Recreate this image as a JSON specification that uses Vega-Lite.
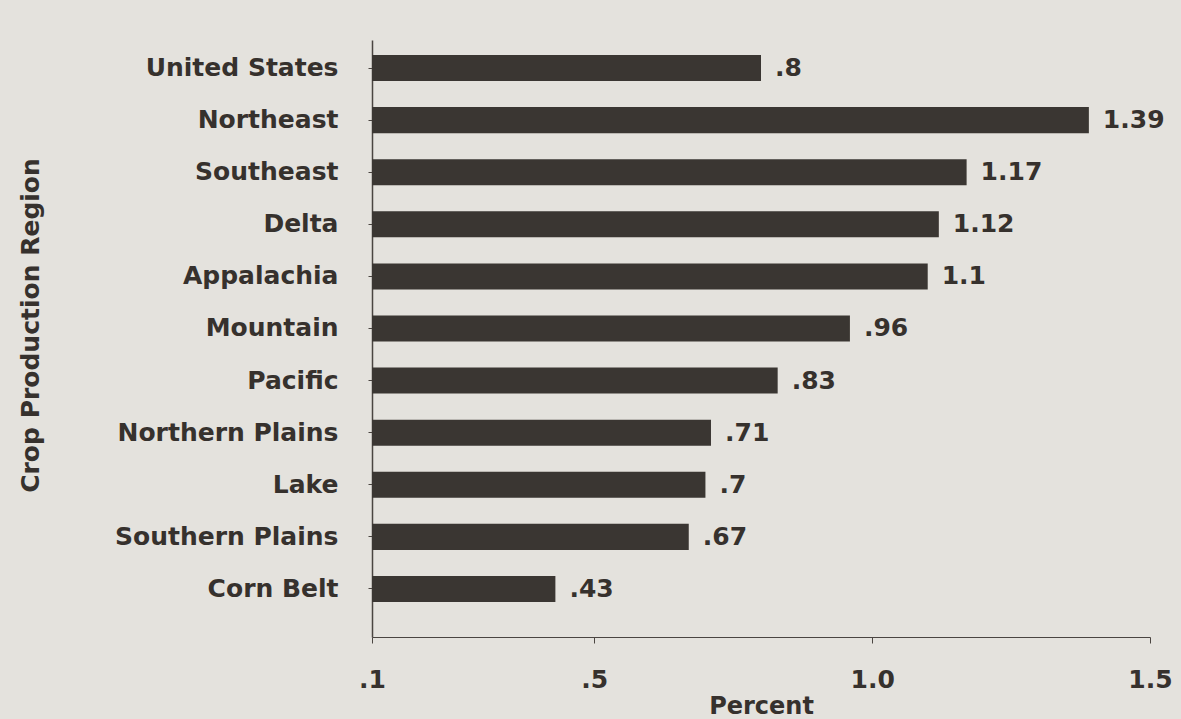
{
  "$schema": "https://vega.github.io/schema/vega-lite/v6.json",
  "autosize": {"type": "none"},
  "padding": {"left": 372, "top": 40, "right": 31, "bottom": 82},
  "width": 778,
  "height": 597,
  "background": "#e4e2dd",
  "config": {
    "view": {"stroke": null},
    "font": "DejaVu Sans",
    "axis": {"grid": false, "domainColor": "#4a4541", "tickColor": "#4a4541", "labelColor": "#36312d", "titleColor": "#36312d", "labelFont": "DejaVu Sans", "titleFont": "DejaVu Sans", "labelFontWeight": "bold", "titleFontWeight": "bold"}
  },
  "data": {
    "values": [
      {"region": "United States", "percent": 0.8},
      {"region": "Northeast", "percent": 1.39},
      {"region": "Southeast", "percent": 1.17},
      {"region": "Delta", "percent": 1.12},
      {"region": "Appalachia", "percent": 1.1},
      {"region": "Mountain", "percent": 0.96},
      {"region": "Pacific", "percent": 0.83},
      {"region": "Northern Plains", "percent": 0.71},
      {"region": "Lake", "percent": 0.7},
      {"region": "Southern Plains", "percent": 0.67},
      {"region": "Corn Belt", "percent": 0.43}
    ]
  },
  "transform": [
    {"calculate": "replace(toString(datum.percent), /^0\\./, '.')", "as": "label"}
  ],
  "encoding": {
    "y": {
      "field": "region",
      "type": "nominal",
      "sort": null,
      "scale": {"paddingInner": 0.5, "paddingOuter": 0.48, "align": 0.3},
      "axis": {
        "title": "Crop Production Region",
        "titleFontSize": 25,
        "labelFontSize": 25,
        "labelLimit": 400,
        "labelPadding": 30,
        "tickSize": 4,
        "domainWidth": 1.5,
        "titleX": -342,
        "titleY": 285,
        "titleAngle": -90,
        "titleAlign": "center",
        "titleBaseline": "middle"
      }
    }
  },
  "layer": [
    {
      "mark": {"type": "bar", "color": "#3a3632"},
      "encoding": {
        "x": {
          "field": "percent",
          "type": "quantitative",
          "scale": {"domain": [0.1, 1.5], "zero": false, "nice": false},
          "axis": {
            "title": "Percent",
            "titleFontSize": 24,
            "titleBaseline": "bottom",
            "titleY": 81,
            "labelFontSize": 25,
            "labelPadding": 24,
            "values": [0.1, 0.5, 1.0, 1.5],
            "labelExpr": "replace(format(datum.value, '.1f'), /^0/, '')",
            "tickSize": 6,
            "domainWidth": 1,
            "labelFlush": false
          }
        },
        "x2": {"datum": 0.1}
      }
    },
    {
      "mark": {"type": "text", "align": "left", "baseline": "middle", "dx": 14, "fontSize": 25, "fontWeight": "bold", "font": "DejaVu Sans", "color": "#36312d"},
      "encoding": {
        "x": {"field": "percent", "type": "quantitative"},
        "text": {"field": "label"}
      }
    }
  ]
}
